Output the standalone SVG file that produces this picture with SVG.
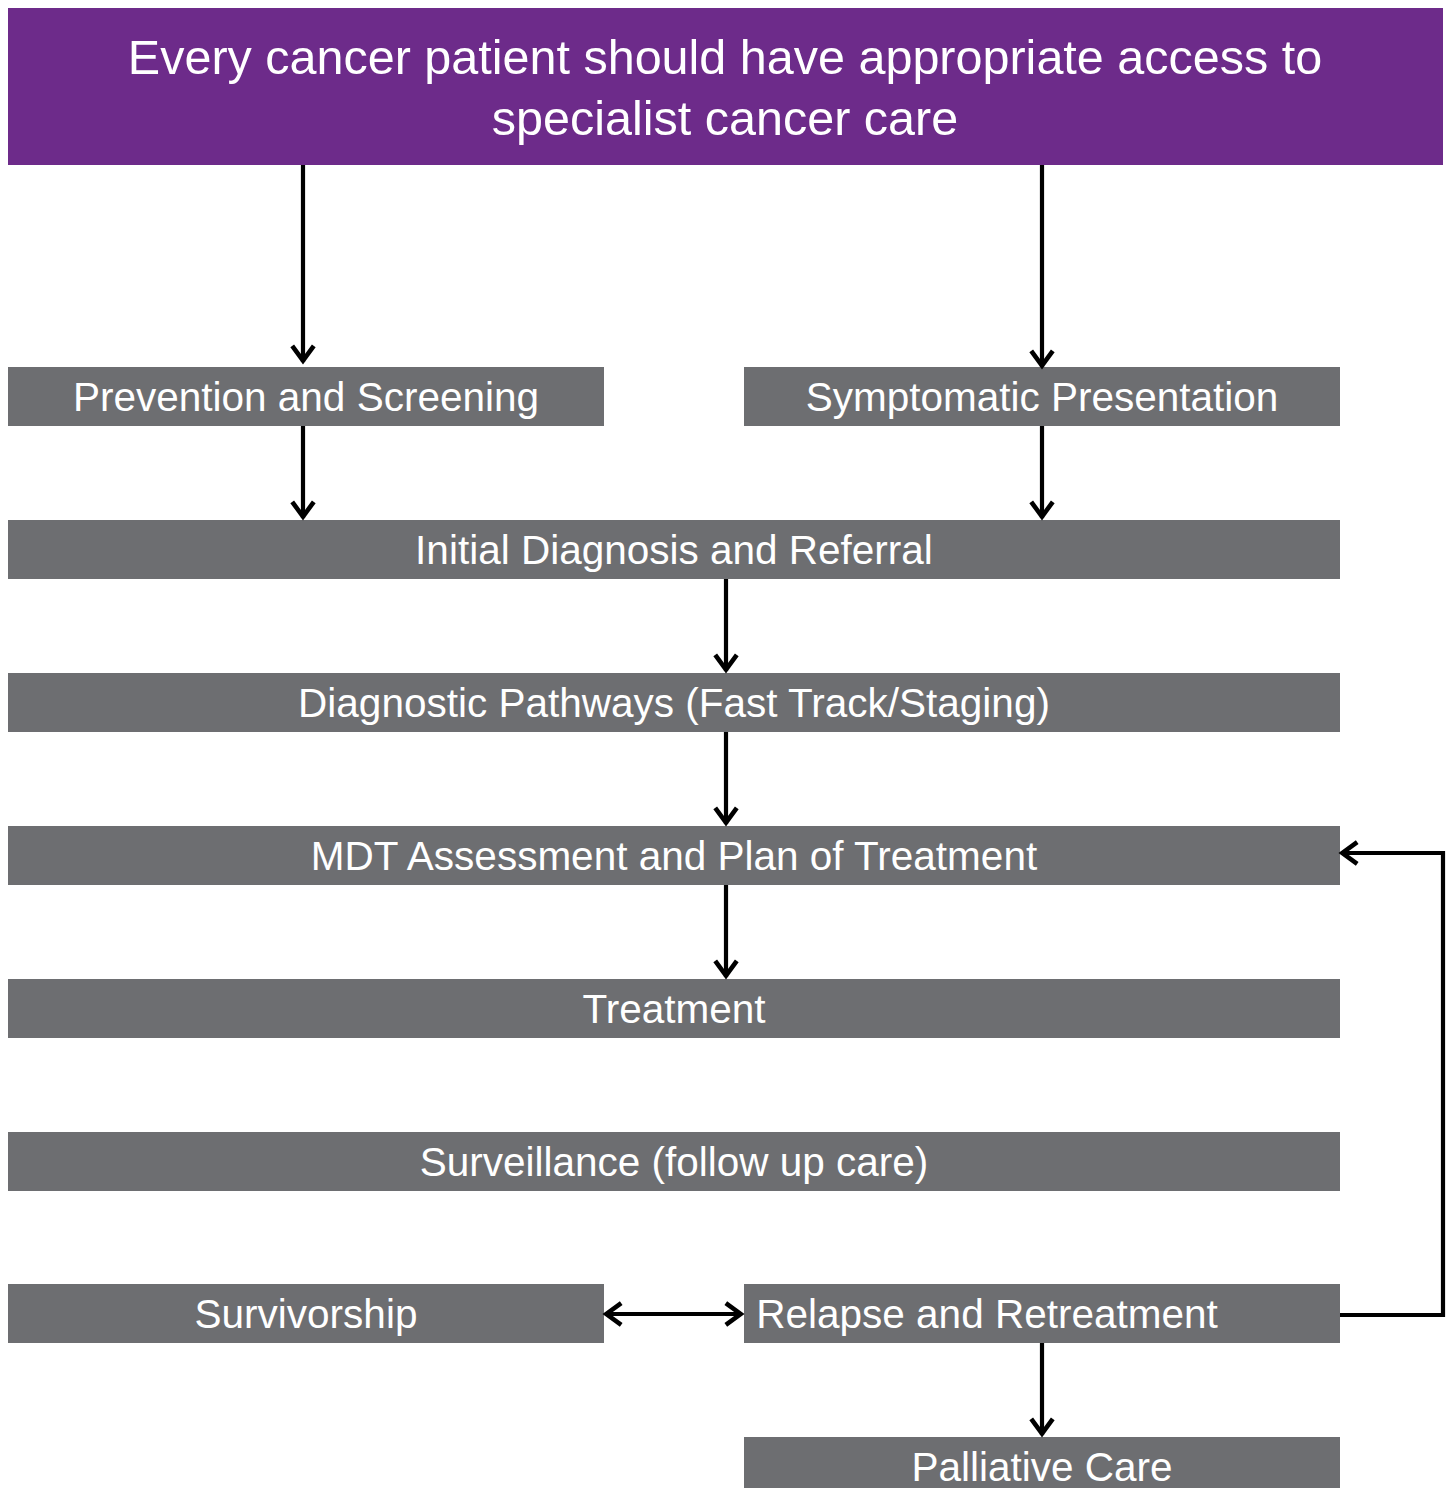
<svg xmlns="http://www.w3.org/2000/svg" width="1453" height="1488" viewBox="0 0 1453 1488">
<defs>
<style>
.box{fill:#6d6e71}
.t{fill:#fff;font-family:"Liberation Sans",Arial,sans-serif;font-size:40.5px;text-anchor:middle}
.title{fill:#fff;font-family:"Liberation Sans",Arial,sans-serif;font-size:48.5px;text-anchor:middle}
.c{fill:none;stroke:#000;stroke-width:4.2}
</style>
<marker id="ah" viewBox="0 0 20 20" refX="18" refY="10" markerWidth="27" markerHeight="27" markerUnits="userSpaceOnUse" orient="auto-start-reverse">
<path d="M6 2 L17 10 L6 18" fill="none" stroke="#000" stroke-width="3.4"/>
</marker>
</defs>
<rect width="1453" height="1488" fill="#fff"/>
<g id="top">
<rect x="8" y="8" width="1435" height="157" fill="#6d2b8a"/>
<text class="title" x="725" y="74">Every cancer patient should have appropriate access to</text>
<text class="title" x="725" y="135">specialist cancer care</text>
</g>
<g id="prevention"><rect class="box" x="8" y="367" width="596" height="59"/><text class="t" x="306" y="411">Prevention and Screening</text></g>
<g id="symptomatic"><rect class="box" x="744" y="367" width="596" height="59"/><text class="t" x="1042" y="411">Symptomatic Presentation</text></g>
<g id="initial"><rect class="box" x="8" y="520" width="1332" height="59"/><text class="t" x="674" y="564">Initial Diagnosis and Referral</text></g>
<g id="diagnostic"><rect class="box" x="8" y="673" width="1332" height="59"/><text class="t" x="674" y="717">Diagnostic Pathways (Fast Track/Staging)</text></g>
<g id="mdt"><rect class="box" x="8" y="826" width="1332" height="59"/><text class="t" x="674" y="870">MDT Assessment and Plan of Treatment</text></g>
<g id="treatment"><rect class="box" x="8" y="979" width="1332" height="59"/><text class="t" x="674" y="1023">Treatment</text></g>
<g id="surveillance"><rect class="box" x="8" y="1132" width="1332" height="59"/><text class="t" x="674" y="1176">Surveillance (follow up care)</text></g>
<g id="survivorship"><rect class="box" x="8" y="1284" width="596" height="59"/><text class="t" x="306" y="1328">Survivorship</text></g>
<g id="relapse"><rect class="box" x="744" y="1284" width="596" height="59"/><text class="t" x="987" y="1328">Relapse and Retreatment</text></g>
<g id="palliative"><rect class="box" x="744" y="1437" width="596" height="59"/><text class="t" x="1042" y="1481">Palliative Care</text></g>
<g id="connectors">
<line class="c" x1="303" y1="165" x2="303" y2="362" marker-end="url(#ah)"/>
<line class="c" x1="1042" y1="165" x2="1042" y2="367" marker-end="url(#ah)"/>
<line class="c" x1="303" y1="426" x2="303" y2="518" marker-end="url(#ah)"/>
<line class="c" x1="1042" y1="426" x2="1042" y2="518" marker-end="url(#ah)"/>
<line class="c" x1="726" y1="579" x2="726" y2="671" marker-end="url(#ah)"/>
<line class="c" x1="726" y1="732" x2="726" y2="824" marker-end="url(#ah)"/>
<line class="c" x1="726" y1="885" x2="726" y2="977" marker-end="url(#ah)"/>
<line class="c" x1="1042" y1="1343" x2="1042" y2="1435" marker-end="url(#ah)"/>
<line class="c" x1="605" y1="1314" x2="742" y2="1314" marker-start="url(#ah)" marker-end="url(#ah)"/>
<polyline class="c" points="1340,1315 1443,1315 1443,853 1341,853" marker-end="url(#ah)"/>
</g>
</svg>
